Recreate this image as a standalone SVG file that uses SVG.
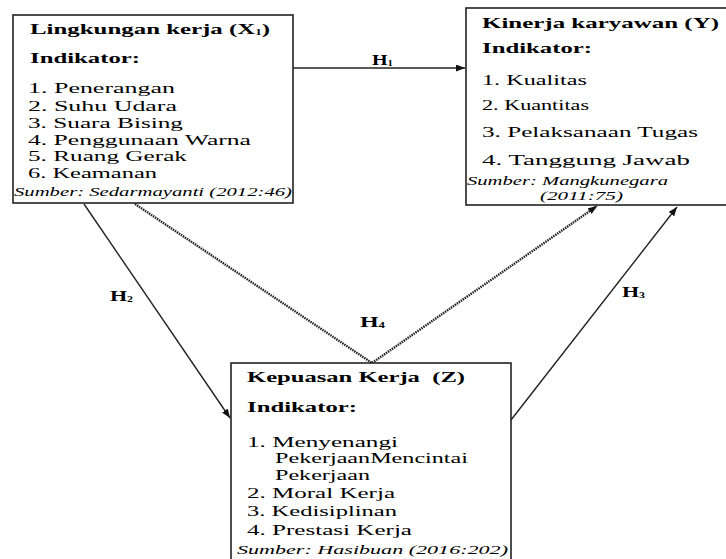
<svg xmlns="http://www.w3.org/2000/svg" width="726" height="559" viewBox="0 0 726 559">
<style>
.box{fill:#fff;stroke:#222;stroke-width:1.6}
.t{font-family:'Liberation Serif','Times New Roman',serif;fill:#000}
.b{font-weight:bold;font-size:15.5px}
.r{font-size:15.5px}
.s{font-style:italic;font-size:13px}
.h{font-weight:bold;font-size:15px}
.sub{font-size:8px}
.c{stroke:#222;stroke-width:1.4;fill:none}
.d{stroke:#222;stroke-width:2.4;stroke-dasharray:1.5 0.9;fill:none}
</style>
<defs>
<marker id="ar" markerUnits="userSpaceOnUse" markerWidth="10" markerHeight="8" refX="9" refY="3.5" orient="auto">
<path d="M0,0 L9,3.5 L0,7 z" fill="#111"/>
</marker>
</defs>
<rect width="726" height="559" fill="#fff"/>

<g id="connectors">
<line class="c" x1="293" y1="68" x2="465" y2="68" marker-end="url(#ar)"/>
<line class="c" x1="84" y1="204" x2="230" y2="418" marker-end="url(#ar)"/>
<polyline class="d" points="135,204 372,363 597,206" marker-end="url(#ar)"/>
<line class="c" x1="511" y1="420" x2="677" y2="207" marker-end="url(#ar)"/>
<text class="t h" x="372" y="65" textLength="21" lengthAdjust="spacingAndGlyphs">H<tspan class="sub" dy="1">1</tspan></text>
<text class="t h" x="110" y="301" textLength="23" lengthAdjust="spacingAndGlyphs">H<tspan class="sub" dy="1">2</tspan></text>
<text class="t h" x="360" y="327" textLength="25" lengthAdjust="spacingAndGlyphs">H<tspan class="sub" dy="1">4</tspan></text>
<text class="t h" x="622" y="297" textLength="23" lengthAdjust="spacingAndGlyphs">H<tspan class="sub" dy="1">3</tspan></text>
</g>

<g id="x1">
<rect class="box" x="13" y="15" width="280" height="188"/>
<text class="t b" x="30" y="34" textLength="240" lengthAdjust="spacingAndGlyphs">Lingkungan kerja (X<tspan class="sub" dy="1">1</tspan><tspan dy="-1">)</tspan></text>
<text class="t b" x="30" y="63" textLength="110" lengthAdjust="spacingAndGlyphs">Indikator:</text>
<text class="t r" x="28" y="93" textLength="147" lengthAdjust="spacingAndGlyphs">1. Penerangan</text>
<text class="t r" x="28" y="110.5" textLength="149" lengthAdjust="spacingAndGlyphs">2. Suhu Udara</text>
<text class="t r" x="28" y="127.5" textLength="155" lengthAdjust="spacingAndGlyphs">3. Suara Bising</text>
<text class="t r" x="28" y="144.5" textLength="223" lengthAdjust="spacingAndGlyphs">4. Penggunaan Warna</text>
<text class="t r" x="28" y="161" textLength="159" lengthAdjust="spacingAndGlyphs">5. Ruang Gerak</text>
<text class="t r" x="28" y="178" textLength="129" lengthAdjust="spacingAndGlyphs">6. Keamanan</text>
<text class="t s" x="14" y="196" textLength="278" lengthAdjust="spacingAndGlyphs">Sumber: Sedarmayanti (2012:46)</text>
</g>

<g id="y">
<rect class="box" x="466" y="8" width="280" height="197"/>
<text class="t b" x="482" y="28" textLength="237" lengthAdjust="spacingAndGlyphs">Kinerja karyawan (Y)</text>
<text class="t b" x="482" y="53" textLength="110" lengthAdjust="spacingAndGlyphs">Indikator:</text>
<text class="t r" x="482" y="85" textLength="105" lengthAdjust="spacingAndGlyphs">1. Kualitas</text>
<text class="t r" x="482" y="110" textLength="107" lengthAdjust="spacingAndGlyphs">2. Kuantitas</text>
<text class="t r" x="482" y="137" textLength="216" lengthAdjust="spacingAndGlyphs">3. Pelaksanaan Tugas</text>
<text class="t r" x="482" y="165" textLength="208" lengthAdjust="spacingAndGlyphs">4. Tanggung Jawab</text>
<text class="t s" x="467" y="185" textLength="201" lengthAdjust="spacingAndGlyphs">Sumber: Mangkunegara</text>
<text class="t s" x="540" y="200" textLength="83" lengthAdjust="spacingAndGlyphs">(2011:75)</text>
</g>

<g id="z">
<rect class="box" x="231" y="363" width="280" height="210"/>
<text class="t b" x="247" y="382" textLength="218" lengthAdjust="spacingAndGlyphs" xml:space="preserve">Kepuasan Kerja  (Z)</text>
<text class="t b" x="247" y="412" textLength="110" lengthAdjust="spacingAndGlyphs">Indikator:</text>
<text class="t r" x="247" y="447" textLength="151" lengthAdjust="spacingAndGlyphs">1. Menyenangi</text>
<text class="t r" x="275" y="463" textLength="193" lengthAdjust="spacingAndGlyphs">PekerjaanMencintai</text>
<text class="t r" x="275" y="480" textLength="95" lengthAdjust="spacingAndGlyphs">Pekerjaan</text>
<text class="t r" x="247" y="498" textLength="148" lengthAdjust="spacingAndGlyphs">2. Moral Kerja</text>
<text class="t r" x="247" y="516" textLength="150" lengthAdjust="spacingAndGlyphs">3. Kedisiplinan</text>
<text class="t r" x="247" y="535" textLength="165" lengthAdjust="spacingAndGlyphs">4. Prestasi Kerja</text>
<text class="t s" x="237" y="554" textLength="271" lengthAdjust="spacingAndGlyphs">Sumber: Hasibuan (2016:202)</text>
</g>
</svg>
